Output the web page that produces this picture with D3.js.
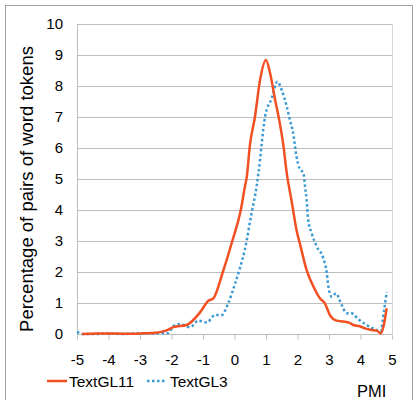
<!DOCTYPE html>
<html>
<head>
<meta charset="utf-8">
<script src="https://cdn.jsdelivr.net/npm/d3@7"></script>
<style>
  body { margin: 0; background: #fff; }
  text { font-family: "Liberation Sans", Arial, sans-serif; fill: #000; }
</style>
</head>
<body>
<script>
// PMI values and percentages
var gl11X = [-4.84, -4.5, -4.0, -3.5, -3.0, -2.52, -2.21, -1.94, -1.52, -1.1, -0.83, -0.67,
  -0.37, -0.07, 0.2, 0.33, 0.39, 0.49, 0.65, 0.81, 1.0, 1.13, 1.29, 1.42, 1.55, 1.66, 1.82,
  1.97, 2.08, 2.29, 2.56, 2.71, 2.87, 3.03, 3.24, 3.45, 3.65, 3.77, 3.98, 4.14, 4.35, 4.51,
  4.64, 4.73, 4.83];
var gl11Y = [0.0, 0.01, 0.02, 0.01, 0.02, 0.04, 0.1, 0.22, 0.29, 0.69, 1.07, 1.15,
  2.0, 3.0, 4.0, 4.75, 5.07, 6.1, 7.01, 8.19, 8.84, 8.41, 7.55, 6.9, 6.1, 5.18, 4.25,
  3.35, 2.9, 2.06, 1.42, 1.15, 0.99, 0.61, 0.43, 0.4, 0.36, 0.29, 0.25, 0.18, 0.13, 0.11,
  0.02, 0.24, 0.83];

var gl3X = [-5.0, -4.8, -4.5, -4.0, -3.5, -3.0, -2.5, -2.1, -1.94, -1.73, -1.41, -1.15,
  -0.88, -0.62, -0.41, -0.2, 0.02, 0.17, 0.33, 0.54, 0.7, 0.81, 0.86, 0.97, 1.18, 1.36,
  1.5, 1.66, 1.76, 1.86, 1.97, 2.06, 2.19, 2.24, 2.29, 2.34, 2.45, 2.61, 2.82, 2.93, 2.98,
  3.09, 3.22, 3.4, 3.56, 3.72, 3.93, 4.2, 4.46, 4.64, 4.75, 4.83];
var gl3Y = [0.07, 0.0, 0.0, 0.01, 0.0, 0.02, 0.02, 0.03, 0.26, 0.32, 0.22, 0.43,
  0.37, 0.61, 0.61, 0.99, 1.63, 2.12, 2.73, 3.89, 4.75, 5.61, 6.1, 7.01, 7.6, 8.14,
  7.87, 7.33, 6.9, 6.5, 5.72, 5.35, 5.18, 4.75, 4.32, 3.68, 3.25, 2.82, 2.44, 1.96, 1.53,
  1.2, 1.31, 0.94, 0.67, 0.67, 0.48, 0.29, 0.15, 0.08, 0.77, 1.36];

var xTicks = [-5, -4, -3, -2, -1, 0, 1, 2, 3, 4, 5];
var yTicks = [0, 1, 2, 3, 4, 5, 6, 7, 8, 9, 10];
var seriesNames = ["TextGL11", "TextGL3"];

var width = 416, height = 400;
var svg = d3.select("body").append("svg")
  .attr("width", width)
  .attr("height", height);

// outer chart border
svg.append("rect")
  .attr("x", 5.5).attr("y", 5.5)
  .attr("width", 407).attr("height", 400)
  .style("fill", "none")
  .style("stroke", "#a0a0a0");

var x = d3.scaleLinear().domain([-5, 5]).range([77, 392]);
var y = d3.scaleLinear().domain([0, 10]).range([334, 24]);

// horizontal gridlines
svg.append("g")
  .selectAll("line")
  .data(yTicks)
  .enter().append("line")
  .attr("x1", x(-5)).attr("x2", x(5))
  .attr("y1", function(d) { return Math.round(y(d)) + 0.5; })
  .attr("y2", function(d) { return Math.round(y(d)) + 0.5; })
  .style("stroke", "#bdbdbd");

// left and right edges of plot
svg.append("line")
  .attr("x1", x(-5) + 0.5).attr("x2", x(-5) + 0.5)
  .attr("y1", y(10)).attr("y2", y(0) + 5)
  .style("stroke", "#bdbdbd");
svg.append("line")
  .attr("x1", x(5) + 0.5).attr("x2", x(5) + 0.5)
  .attr("y1", y(10)).attr("y2", y(0))
  .style("stroke", "#d6d6d6");

// x axis: ticks and labels
var xAxis = d3.axisBottom(x).tickValues(xTicks).tickSize(5).tickPadding(15)
  .tickFormat(d3.format("d"));
var gx = svg.append("g")
  .attr("transform", "translate(0," + (Math.round(y(0)) + 0.5) + ")")
  .call(xAxis);
gx.select(".domain").remove();
gx.selectAll(".tick line").style("stroke", "#bdbdbd");
gx.selectAll(".tick text")
  .style("font-size", "15px")
  .style("font-family", "'Liberation Sans', Arial, sans-serif")
  .text(function(d) { return d < 0 ? "-" + Math.abs(d) : d; });

// y axis labels
var yAxis = d3.axisLeft(y).tickValues(yTicks).tickSize(0).tickPadding(14);
var gy = svg.append("g")
  .attr("transform", "translate(" + x(-5) + ",0)")
  .call(yAxis);
gy.select(".domain").remove();
gy.selectAll(".tick text")
  .style("font-size", "15px")
  .style("font-family", "'Liberation Sans', Arial, sans-serif");

// axis titles
svg.append("text")
  .attr("transform", "translate(33,189) rotate(-90)")
  .style("text-anchor", "middle")
  .style("font-size", "18.5px")
  .text("Percentage of pairs of word tokens");

svg.append("text")
  .attr("x", 357).attr("y", 397)
  .style("font-size", "16.5px")
  .text("PMI");

// series lines
var line = d3.line()
  .x(function(d) { return x(d[0]); })
  .y(function(d) { return y(d[1]); })
  .curve(d3.curveMonotoneX);

var gl3 = d3.zip(gl3X, gl3Y);
var gl11 = d3.zip(gl11X, gl11Y);

svg.append("path")
  .datum(gl3)
  .attr("d", line)
  .style("fill", "none")
  .style("stroke", "#3a9ad4")
  .style("stroke-width", 2.5)
  .style("stroke-dasharray", "2.5,2.5");

svg.append("path")
  .datum(gl11)
  .attr("d", line)
  .style("fill", "none")
  .style("stroke", "#f25022")
  .style("stroke-width", 2.5)
  .style("stroke-linejoin", "round");

// legend
var legend = svg.append("g");
legend.append("line")
  .attr("x1", 47).attr("x2", 67).attr("y1", 381).attr("y2", 381)
  .style("stroke", "#f25022").style("stroke-width", 2.5);
legend.append("text")
  .attr("x", 69).attr("y", 386.5)
  .style("font-size", "15.5px")
  .text(seriesNames[0]);
legend.append("line")
  .attr("x1", 147).attr("x2", 167).attr("y1", 381).attr("y2", 381)
  .style("stroke", "#3a9ad4").style("stroke-width", 2.5)
  .style("stroke-dasharray", "2.5,2.5");
legend.append("text")
  .attr("x", 170).attr("y", 386.5)
  .style("font-size", "15.5px")
  .text(seriesNames[1]);
</script>
</body>
</html>
